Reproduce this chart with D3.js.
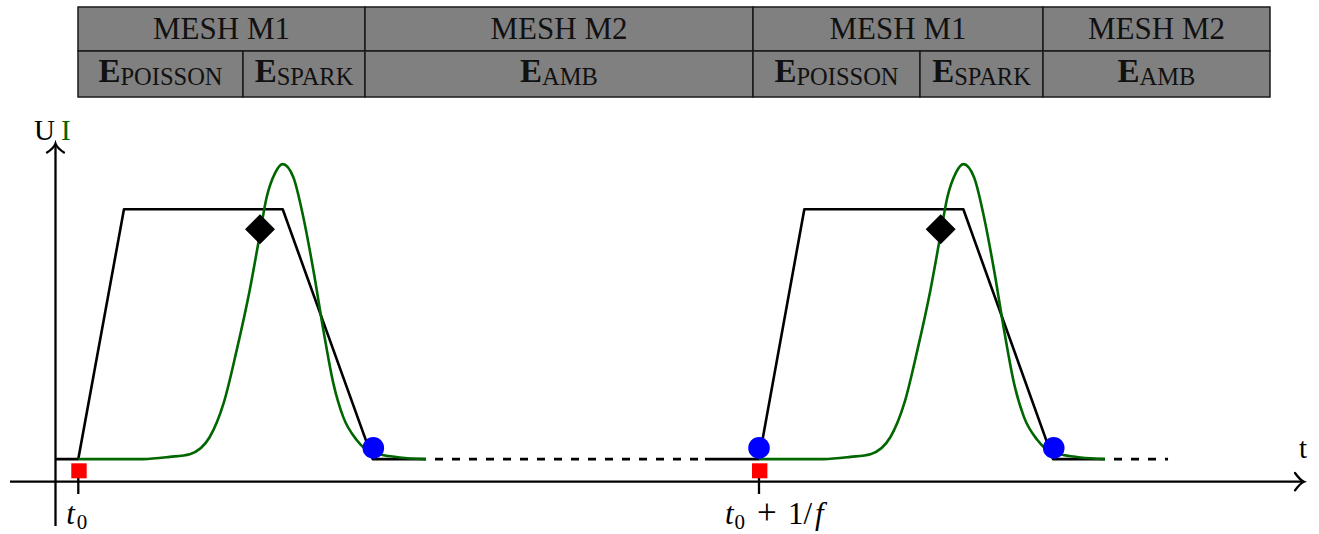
<!DOCTYPE html>
<html>
<head>
<meta charset="utf-8">
<script src="https://cdn.jsdelivr.net/npm/d3@7/dist/d3.min.js"></script>
<style>
  html, body { margin: 0; padding: 0; background: #fff; }
  svg { display: block; }
  text { font-family: "Liberation Serif", "Times New Roman", serif; }
</style>
</head>
<body>
<div id="chart"></div>
<script>
// ---------------- DATA ----------------
// Table (top): mesh row and solver row
const meshLabels = ["MESH M1", "MESH M2", "MESH M1", "MESH M2"];
const solverMain = ["E", "E", "E", "E", "E", "E"];
const solverSub  = ["POISSON", "SPARK", "AMB", "POISSON", "SPARK", "AMB"];

// Voltage U (black trapezoid), time in units where 1/f = 100, t0 = 0
const uTime1 = [-3.35, 0, 6.71, 30.03, 43.25, 51.08];
const uVal1  = [0.083, 0.083, 1.0, 1.0, 0.083, 0.083];
const gapTime = [51.08, 92.07];           // dashed idle period
const gapVal  = [0.083, 0.083];
const uTime2 = [92.07, 100, 106.66, 130.02, 143.2, 150.83];
const uVal2  = [0.083, 0.083, 1.0, 1.0, 0.083, 0.083];
const tailTime = [150.83, 160.09];        // dashed continuation
const tailVal  = [0.083, 0.083];

// Current I (green pulse)
const iTime1 = [0, 9.5, 13.43, 16.37, 19.31, 21.36, 23.27, 25.18, 26.45, 27.68, 28.9, 30.03,
                31.59, 33.06, 34.53, 36.0, 37.46, 38.93, 40.9, 42.85, 44.72, 47.22, 51.08];
const iVal1  = [0.083, 0.083, 0.091, 0.101, 0.164, 0.289, 0.483, 0.703, 0.876, 1.045, 1.133, 1.166,
                1.118, 0.971, 0.777, 0.557, 0.362, 0.237, 0.153, 0.109, 0.098, 0.089, 0.083];
const iTime2 = [100, 109.5, 113.43, 116.37, 119.31, 121.36, 123.27, 125.18, 126.45, 127.68, 128.9, 130.03,
                131.59, 133.06, 134.53, 136.0, 137.46, 138.93, 140.9, 142.85, 144.72, 147.22, 150.83];
const iVal2  = [0.083, 0.083, 0.091, 0.101, 0.164, 0.289, 0.483, 0.703, 0.876, 1.045, 1.133, 1.166,
                1.118, 0.971, 0.777, 0.557, 0.362, 0.237, 0.153, 0.109, 0.098, 0.089, 0.083];

// Markers
const squareTime  = [0.1, 100.1];
const squareVal   = [0.04, 0.04];
const diamondTime = [26.69, 126.69];
const diamondVal  = [0.927, 0.927];
const circleTime  = [43.34, 100, 143.3];
const circleVal   = [0.124, 0.124, 0.124];

// Axis ticks
const tickTime = [0, 100];

// ---------------- LAYOUT ----------------
const W = 1319, H = 534;
const svg = d3.select("#chart").append("svg").attr("width", W).attr("height", H);
svg.append("rect").attr("width", W).attr("height", H).attr("fill", "#fff");

const x = d3.scaleLinear().domain([0, 100]).range([78.3, 759]);
const y = d3.scaleLinear().domain([0, 1]).range([481.7, 209.3]);

const GREEN = "#006600";
const LW = 2.6;

// ---------- table ----------
const colX = [78, 243, 365, 753, 920, 1043, 1270];
const meshSpan = [[0, 2], [2, 3], [3, 5], [5, 6]];
const rowY = [7, 51, 97];
const table = svg.append("g");

meshLabels.forEach((lab, i) => {
  const x0 = colX[meshSpan[i][0]], x1 = colX[meshSpan[i][1]];
  table.append("rect").attr("x", x0).attr("y", rowY[0]).attr("width", x1 - x0).attr("height", rowY[1] - rowY[0])
    .attr("fill", "#808080").attr("stroke", "#1a1a1a").attr("stroke-width", 1.5);
  table.append("text").attr("x", (x0 + x1) / 2).attr("y", 38.5).attr("text-anchor", "middle")
    .attr("font-size", 31).attr("fill", "#111").text(lab);
});
solverSub.forEach((sub, i) => {
  const x0 = colX[i], x1 = colX[i + 1];
  table.append("rect").attr("x", x0).attr("y", rowY[1]).attr("width", x1 - x0).attr("height", rowY[2] - rowY[1])
    .attr("fill", "#808080").attr("stroke", "#1a1a1a").attr("stroke-width", 1.5);
  const t = table.append("text").attr("x", (x0 + x1) / 2).attr("y", 82).attr("text-anchor", "middle").attr("fill", "#111");
  t.append("tspan").attr("font-size", 33).attr("font-weight", "bold").text(solverMain[i]);
  t.append("tspan").attr("font-size", 24.5).attr("dy", 2.5).text(sub);
});

// ---------- axes ----------
const axes = svg.append("g").attr("stroke", "#000").attr("stroke-width", 2.3).attr("fill", "none");
axes.append("line").attr("x1", 10).attr("y1", 481.7).attr("x2", 1303).attr("y2", 481.7);
axes.append("line").attr("x1", 55.5).attr("y1", 526).attr("x2", 55.5).attr("y2", 145);
// arrow heads (latex style curved barbs)
axes.append("path").attr("d", "M1295,473 Q1300,480 1304,481.7 Q1300,483.4 1295,490.4").attr("stroke-linecap", "round");
axes.append("path").attr("d", "M47,152.5 Q54,148 55.5,143.5 Q57,148 64,152.5").attr("stroke-linecap", "round");
// ticks
tickTime.forEach(t => {
  axes.append("line").attr("x1", x(t)).attr("x2", x(t)).attr("y1", 477).attr("y2", 494);
});

// tick labels
const tx0 = x(tickTime[0]), tx1 = x(tickTime[1]);
const lab0 = svg.append("text").attr("y", 524).attr("font-size", 31);
lab0.append("tspan").attr("x", tx0 - 12).attr("font-style", "italic").text("t");
lab0.append("tspan").attr("x", tx0 - 1.5).attr("font-size", 21).attr("dy", 5).text("0");

const lab1 = svg.append("text").attr("y", 524).attr("font-size", 31);
lab1.append("tspan").attr("x", tx1 - 34).attr("font-style", "italic").text("t");
lab1.append("tspan").attr("x", tx1 - 24.5).attr("font-size", 21).attr("dy", 5).text("0");
lab1.append("tspan").attr("x", tx1 - 2).attr("dy", -5).attr("font-size", 35).text("+");
lab1.append("tspan").attr("x", tx1 + 29).text("1/");
lab1.append("tspan").attr("x", tx1 + 56).attr("font-style", "italic").text("f");

// axis names
const yName = svg.append("text").attr("y", 140).attr("font-size", 29);
yName.append("tspan").attr("x", 34).attr("fill", "#000").text("U");
yName.append("tspan").attr("x", 61).attr("fill", GREEN).text("I");
svg.append("text").attr("x", 1303).attr("y", 458).attr("text-anchor", "middle").attr("font-size", 29).text("t");

// ---------- curves ----------
const straight = d3.line().x(d => x(d[0])).y(d => y(d[1]));
const smooth = d3.line().x(d => x(d[0])).y(d => y(d[1])).curve(d3.curveMonotoneX);
const zip = (a, b) => a.map((v, i) => [v, b[i]]);

const lines = svg.append("g").attr("fill", "none").attr("stroke-linejoin", "round");
lines.append("path").attr("d", straight(zip(uTime1, uVal1))).attr("stroke", "#000").attr("stroke-width", LW);
lines.append("path").attr("d", straight(zip(uTime2, uVal2))).attr("stroke", "#000").attr("stroke-width", LW);
lines.append("path").attr("d", straight(zip(gapTime, gapVal))).attr("stroke", "#000").attr("stroke-width", LW)
  .attr("stroke-dasharray", "8,9").attr("stroke-dashoffset", 8);
lines.append("path").attr("d", straight(zip(tailTime, tailVal))).attr("stroke", "#000").attr("stroke-width", LW)
  .attr("stroke-dasharray", "8,9").attr("stroke-dashoffset", 8);

lines.append("path").attr("d", smooth(zip(iTime1, iVal1))).attr("stroke", GREEN).attr("stroke-width", LW);
lines.append("path").attr("d", smooth(zip(iTime2, iVal2))).attr("stroke", GREEN).attr("stroke-width", LW);

// ---------- markers ----------
const marks = svg.append("g");
zip(squareTime, squareVal).forEach(d => {
  marks.append("rect").attr("x", x(d[0]) - 7.7).attr("y", y(d[1]) - 7.5).attr("width", 15.4).attr("height", 15)
    .attr("fill", "#ff0000");
});
zip(diamondTime, diamondVal).forEach(d => {
  marks.append("path").attr("transform", `translate(${x(d[0])},${y(d[1])})`)
    .attr("d", "M0,-15 L15,0 L0,15 L-15,0 Z").attr("fill", "#000");
});
zip(circleTime, circleVal).forEach(d => {
  marks.append("circle").attr("cx", x(d[0])).attr("cy", y(d[1])).attr("r", 10.8).attr("fill", "#0000ff");
});
</script>
</body>
</html>
